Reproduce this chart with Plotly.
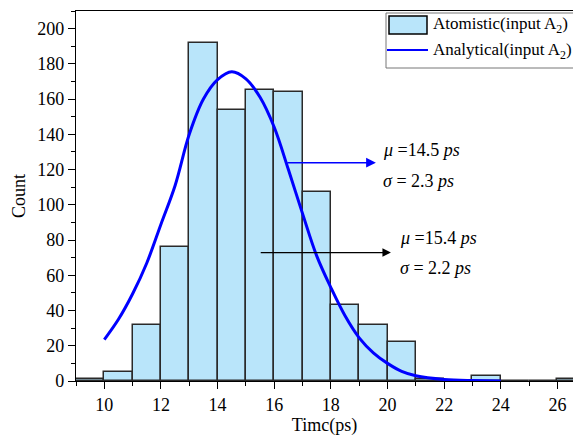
import plotly.graph_objects as go

# Histogram data (bin width 1 ps)
bin_left = [9, 10, 11, 12, 13, 14, 15, 16, 17, 18, 19, 20, 21, 22, 23, 24, 25, 26]
counts = [1, 5, 32, 76, 192, 154, 165, 164, 107, 43, 32, 22, 1, 0, 3, 0, 0, 1]

# Analytical curve
curve_x = [10, 10.5, 11, 11.5, 12, 12.5, 13, 13.5, 14, 14.5, 15, 15.5, 16, 16.5,
           17, 17.5, 18, 18.5, 19, 19.5, 20, 20.5, 21, 22, 23, 24]
curve_y = [23.5, 35, 49.5, 67, 89, 111, 140, 160, 171, 175.5, 171.5, 161, 144, 120,
           95, 71, 53, 37, 24.5, 16, 10, 5.5, 3, 0.9, 0.25, 0.05]

x_ticks = [10, 12, 14, 16, 18, 20, 22, 24, 26]
y_ticks = [0, 20, 40, 60, 80, 100, 120, 140, 160, 180, 200]

FONT = "Liberation Serif"
BAR_FILL = "#b9e5fa"

def f(size):
    return dict(family=FONT, size=size, color="black")

fig = go.Figure()
fig.add_trace(go.Bar(
    x=[b + 0.5 for b in bin_left], y=counts, width=1,
    marker=dict(color=BAR_FILL, line=dict(color="#2a2a2a", width=1.5)),
    name="Atomistic(input A<sub>2</sub>)", showlegend=False,
))
fig.add_trace(go.Scatter(
    x=curve_x, y=curve_y, mode="lines",
    line=dict(color="#0000ff", width=3, shape="spline"),
    name="Analytical(input A<sub>2</sub>)", showlegend=False,
))

L, T, B = 76, 11, 57
W, H = 573, 438
pw = W - L
ph = H - T - B

def px(xp):
    return (xp - L) / pw

def py(yp):
    return (H - B - yp) / ph

fig.update_layout(
    width=W, height=H,
    margin=dict(l=L, r=0, t=T, b=B, pad=0),
    plot_bgcolor="white", paper_bgcolor="white",
    font=f(18),
    bargap=0,
    xaxis=dict(
        range=[9, 26.55], tickvals=x_ticks, ticks="outside", ticklen=7, tickwidth=1.2,
        tickcolor="black", showline=True, linecolor="black", linewidth=1.2,
        mirror=True, showgrid=False, zeroline=False, tickfont=f(18),
        minor=dict(dtick=1, ticks="outside", ticklen=4, tickcolor="black", tickwidth=1.2),
        title=dict(text="Timc(ps)", font=f(18), standoff=4),
    ),
    yaxis=dict(
        range=[0, 210], tickvals=y_ticks, ticks="outside", ticklen=7, tickwidth=1.2,
        tickcolor="black", showline=True, linecolor="black", linewidth=1.2,
        showgrid=False, zeroline=False, tickfont=f(18),
        minor=dict(dtick=10, ticks="outside", ticklen=4, tickcolor="black", tickwidth=1.2),
        title=dict(text="Count", font=f(18), standoff=6),
    ),
)

# Custom legend
shapes = [
    dict(type="rect", xref="paper", yref="paper", x0=px(386), x1=px(640), y0=py(68), y1=py(13),
         line=dict(color="#777777", width=1), fillcolor="white", layer="above"),
    dict(type="rect", xref="paper", yref="paper", x0=px(389), x1=px(427), y0=py(34), y1=py(16),
         line=dict(color="black", width=1.5), fillcolor=BAR_FILL, layer="above"),
    dict(type="line", xref="paper", yref="paper", x0=px(387), x1=px(428), y0=py(50), y1=py(50),
         line=dict(color="#0000ff", width=2), layer="above"),
]
fig.update_layout(shapes=shapes)

ann = [
    dict(xref="paper", yref="paper", x=px(431), y=py(25), xanchor="left", yanchor="middle",
         text="Atomistic(input A<sub>2</sub>)", showarrow=False, font=f(17)),
    dict(xref="paper", yref="paper", x=px(431), y=py(51), xanchor="left", yanchor="middle",
         text="Analytical(input A<sub>2</sub>)", showarrow=False, font=f(17)),
    # arrows
    dict(x=19.59, y=123.9, ax=16.41, ay=123.9, xref="x", yref="y", axref="x", ayref="y",
         showarrow=True, arrowhead=2, arrowsize=1.3, arrowwidth=1.5, arrowcolor="#0000ff", text=""),
    dict(x=20.12, y=72.9, ax=15.47, ay=72.9, xref="x", yref="y", axref="x", ayref="y",
         showarrow=True, arrowhead=2, arrowsize=1.3, arrowwidth=1.3, arrowcolor="black", text=""),
    # text
    dict(x=19.77, y=131, xref="x", yref="y", xanchor="left", yanchor="middle", showarrow=False,
         text="<i>μ</i> =14.5 <i>ps</i>", font=f(18)),
    dict(x=19.77, y=113.5, xref="x", yref="y", xanchor="left", yanchor="middle", showarrow=False,
         text="<i>σ</i> = 2.3 <i>ps</i>", font=f(18)),
    dict(x=20.36, y=81.2, xref="x", yref="y", xanchor="left", yanchor="middle", showarrow=False,
         text="<i>μ</i> =15.4 <i>ps</i>", font=f(18)),
    dict(x=20.36, y=64.2, xref="x", yref="y", xanchor="left", yanchor="middle", showarrow=False,
         text="<i>σ</i> = 2.2 <i>ps</i>", font=f(18)),
]
fig.update_layout(annotations=ann)

fig.write_html("out.html")
